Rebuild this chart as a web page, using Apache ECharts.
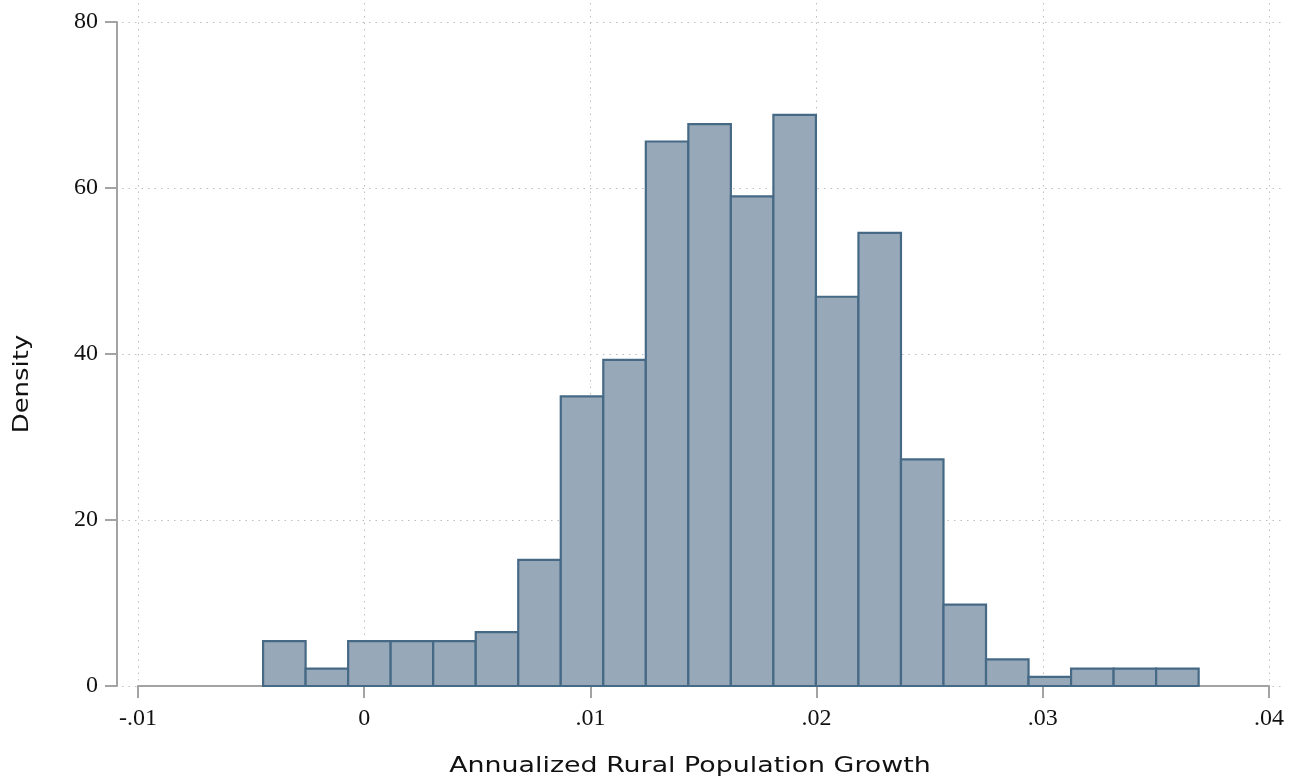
<!DOCTYPE html>
<html>
<head>
<meta charset="utf-8">
<script src="https://cdn.jsdelivr.net/npm/echarts@6/dist/echarts.min.js"></script>
<style>
html,body{margin:0;padding:0;background:#fff;}
#chart{width:1292px;height:780px;}
</style>
</head>
<body>
<div id="chart"></div>
<script>
// Histogram data (density per bin)
var binStart = -0.00447;
var binWidth = 0.00188;
var densities = [5.4, 2.1, 5.4, 5.4, 5.4, 6.5, 15.2, 34.9, 39.3, 65.6, 67.7, 59.0, 68.8, 46.9, 54.6, 27.3, 9.8, 3.2, 1.1, 2.1, 2.1, 2.1];
var xTicks = [-0.01, 0, 0.01, 0.02, 0.03, 0.04];
var yTicks = [0, 20, 40, 60, 80];
var xTitle = 'Annualized Rural Population Growth';
var yTitle = 'Density';

var bins = densities.map(function (d, i) {
  var lo = binStart + i * binWidth;
  return [lo, lo + binWidth, d];
});

function fmtX(v) {
  if (Math.abs(v) < 1e-9) return '0';
  var s = v.toFixed(2);
  return s.replace(/^(-?)0\./, '$1.');
}

var chart = echarts.init(document.getElementById('chart'), null, {renderer: 'canvas'});
var gridColor = '#bdbdbd';
var axisColor = '#a3a3a3';
var tickFont = {fontFamily: "'Liberation Serif', 'Times New Roman', serif", fontSize: 24, color: '#111'};

var option = {
  backgroundColor: '#fff',
  animation: false,
  grid: [
    {left: 138, right: 23, top: 22, bottom: 94},
    {left: 122, right: 7, top: 22, bottom: 94},
    {left: 138, right: 23, top: 3, bottom: 94}
  ],
  xAxis: [
    {
      gridIndex: 0, type: 'value', min: xTicks[0], max: xTicks[xTicks.length - 1], interval: 0.01,
      axisLine: {show: true, onZero: false, lineStyle: {color: axisColor, width: 2}},
      axisTick: {show: true, length: 12, lineStyle: {color: axisColor, width: 2}},
      axisLabel: Object.assign({margin: 21, formatter: fmtX}, tickFont),
      splitLine: {show: false}
    },
    {gridIndex: 1, type: 'value', min: 0, max: 1, show: false},
    {
      gridIndex: 2, type: 'value', min: xTicks[0], max: xTicks[xTicks.length - 1], interval: 0.01,
      axisLine: {show: false}, axisTick: {show: false}, axisLabel: {show: false},
      splitLine: {show: true, lineStyle: {color: gridColor, width: 1, type: [1.5, 5]}}
    }
  ],
  yAxis: [
    {
      gridIndex: 0, type: 'value', min: yTicks[0], max: yTicks[yTicks.length - 1], interval: 20, offset: 21,
      axisLine: {show: true, onZero: false, lineStyle: {color: axisColor, width: 2}},
      axisTick: {show: true, length: 12, lineStyle: {color: axisColor, width: 2}},
      axisLabel: Object.assign({margin: 19}, tickFont),
      splitLine: {show: false}
    },
    {
      gridIndex: 1, type: 'value', min: yTicks[0], max: yTicks[yTicks.length - 1], interval: 20,
      axisLine: {show: false}, axisTick: {show: false}, axisLabel: {show: false},
      splitLine: {show: true, lineStyle: {color: gridColor, width: 1, type: [1.5, 5]}}
    },
    {gridIndex: 2, type: 'value', min: 0, max: 1, show: false}
  ],
  series: [{
    type: 'custom',
    xAxisIndex: 0, yAxisIndex: 0,
    z: 5,
    data: bins,
    encode: {x: [0, 1], y: 2},
    renderItem: function (params, api) {
      var p0 = api.coord([api.value(0), api.value(2)]);
      var p1 = api.coord([api.value(1), 0]);
      return {
        type: 'rect',
        shape: {x: p0[0], y: p0[1], width: p1[0] - p0[0], height: p1[1] - p0[1]},
        style: {fill: '#97a8b9', stroke: '#466985', lineWidth: 2.2}
      };
    }
  }],
  graphic: [
    {
      type: 'text', x: 690, y: 766, scaleX: 1.22,
      style: {text: xTitle, fontFamily: 'DejaVu Sans', fontSize: 22, fill: '#111', textAlign: 'center', textVerticalAlign: 'middle'}
    },
    {
      type: 'text', x: 22, y: 384, rotation: Math.PI / 2, scaleX: 1.18,
      style: {text: yTitle, fontFamily: 'DejaVu Sans', fontSize: 22, fill: '#111', textAlign: 'center', textVerticalAlign: 'middle'}
    }
  ]
};
chart.setOption(option);
</script>
</body>
</html>
